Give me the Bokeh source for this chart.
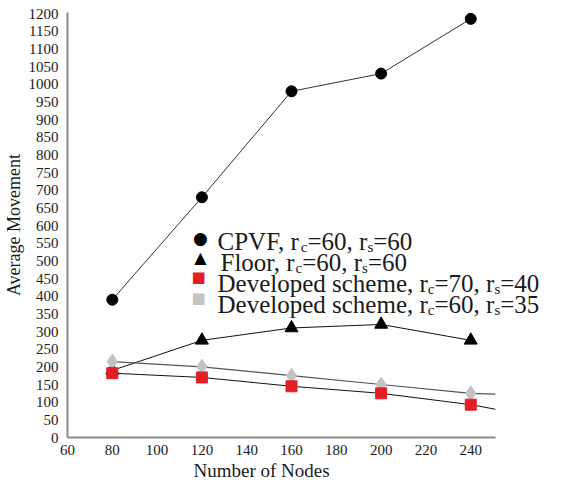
from bokeh.plotting import figure
from bokeh.models import Range1d, FixedTicker, Label, Title
from bokeh.embed import file_html
from bokeh.resources import INLINE

# ---------------- data ----------------
nodes = [80, 120, 160, 200, 240]
cpvf = [390, 680, 980, 1030, 1185]
floor_vals = [190, 275, 310, 320, 275]
dev_70_40 = [182, 170, 145, 125, 93]
dev_60_35 = [215, 200, 175, 150, 125]
# trend lines of the developed schemes run on to the end of the axis
trend_x = [80, 120, 160, 200, 240, 251]
dev_70_40_trend = [182, 170, 145, 125, 93, 80]
dev_60_35_trend = [215, 200, 175, 150, 125, 123]

x_ticks = [60, 80, 100, 120, 140, 160, 180, 200, 220, 240]
y_ticks = [0, 50, 100, 150, 200, 250, 300, 350, 400, 450, 500, 550, 600,
           650, 700, 750, 800, 850, 900, 950, 1000, 1050, 1100, 1150, 1200]

x_title = "Number of Nodes"
y_title = "Average Movement"

legend_symbols = ["\u25CF", "\u25B2", "\u25A0", "\u25A0"]
legend_texts = [
    ["CPVF, r", "c", "=60, r", "s", "=60"],
    ["Floor, r", "c", "=60, r", "s", "=60"],
    ["Developed scheme, r", "c", "=70, r", "s", "=40"],
    ["Developed scheme, r", "c", "=60, r", "s", "=35"],
]

RED = "#e31f26"
GRAY = "#c3c3c3"
SERIF = "Liberation Serif"
TXT = "#1a1a1a"
Y_TOP = 1203

p = figure(width=563, height=480, output_backend="svg", toolbar_location=None,
           x_range=Range1d(60, 281.4), y_range=Range1d(0, Y_TOP),
           min_border_left=66, min_border_right=0, min_border_top=12,
           min_border_bottom=0)
p.outline_line_color = None
p.grid.visible = False
p.background_fill_color = "white"

for ax in (p.xaxis[0], p.yaxis[0]):
    ax.axis_line_color = "#8a8a8a"
    ax.axis_line_width = 2
    ax.major_tick_line_color = None
    ax.minor_tick_line_color = None
    ax.major_label_text_font = SERIF
    ax.major_label_text_font_size = "15px"
    ax.major_label_text_color = TXT
    ax.axis_label_text_font = SERIF
    ax.axis_label_text_font_style = "normal"
    ax.axis_label_text_color = TXT

p.xaxis.bounds = (60, 251)
p.xaxis.ticker = FixedTicker(ticks=x_ticks)
p.yaxis.ticker = FixedTicker(ticks=y_ticks)
p.yaxis.axis_label = y_title
p.yaxis.axis_label_text_font_size = "18px"
p.xaxis.major_label_standoff = 1
p.yaxis.major_label_standoff = 3
p.yaxis.axis_label_standoff = 2

p.add_layout(Title(text=x_title, align="left", offset=126, standoff=0,
                   text_font=SERIF, text_font_size="19px",
                   text_font_style="normal", text_color=TXT), "below")

# lines
p.line(nodes, cpvf, line_color="#333333", line_width=1)
p.line(nodes, floor_vals, line_color="#111111", line_width=1)
p.line(trend_x, dev_60_35_trend, line_color="#555555", line_width=1.2)
p.line(trend_x, dev_70_40_trend, line_color="#111111", line_width=1)

# markers
p.scatter(nodes, floor_vals, marker="triangle", size=13, fill_color="black", line_color="black")
p.scatter(nodes, dev_60_35, marker="diamond", size=15, fill_color=GRAY, line_color=GRAY)
p.scatter(nodes, dev_70_40, marker="square", size=11, fill_color=RED, line_color=RED)
p.scatter(nodes, cpvf, marker="circle", size=11, fill_color="black", line_color="black")

# ---------------- legend (manual, with subscripts) ----------------
W = {' ': 250, ',': 250, '=': 564, 'C': 667, 'P': 556, 'V': 722, 'F': 556,
     'l': 278, 'o': 500, 'r': 333, 'D': 722, 'e': 444, 'v': 500, 'p': 500,
     'd': 500, 's': 389, 'c': 444, 'h': 500, 'm': 778}
for d in "0123456789":
    W[d] = 500


def tw(s, size):
    return sum(W.get(ch, 500) for ch in s) * size / 1000.0


MAIN = 25
SUB = 15
# pixel offsets measured from the top-left corner of the plot frame
text_x = [150, 153, 150, 150]
base_y = [-229, -250, -271, -292]
sym_x = [133, 133, 131, 131]
sym_y = [-225, -245, -264, -285]
sym_colors = ["black", "black", RED, GRAY]
sym_sizes = ["17px", "16px", "15px", "15px"]

for i, parts in enumerate(legend_texts):
    p.add_layout(Label(x=60, y=Y_TOP, x_offset=sym_x[i], y_offset=sym_y[i],
                       text=legend_symbols[i], text_font="DejaVu Sans",
                       text_font_size=sym_sizes[i], text_color=sym_colors[i],
                       text_align="center", text_baseline="middle"))
    cx = text_x[i]
    for j, part in enumerate(parts):
        is_sub = (j % 2 == 1)
        size = SUB if is_sub else MAIN
        p.add_layout(Label(x=60, y=Y_TOP, x_offset=cx,
                           y_offset=base_y[i] - (5 if is_sub else 0),
                           text=part, text_font=SERIF,
                           text_font_size=f"{size}px", text_color=TXT,
                           text_align="left", text_baseline="alphabetic"))
        cx += tw(part, size)

open("out.html", "w").write(file_html(p, INLINE))
